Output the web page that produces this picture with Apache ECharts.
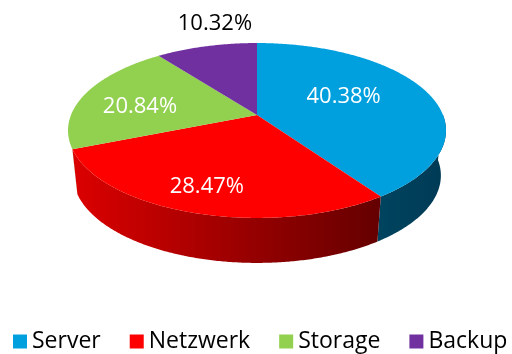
<!DOCTYPE html>
<html>
<head>
<meta charset="utf-8">
<script src="https://cdn.jsdelivr.net/npm/echarts@6/dist/echarts.min.js"></script>
<style>
  html, body { margin: 0; padding: 0; background: #fff; }
  #chart { width: 512px; height: 354px; }
</style>
</head>
<body>
<div id="chart"></div>
<script>
// Cost shares per area (percent)
const categories = ['Server', 'Netzwerk', 'Storage', 'Backup'];
const shares = [40.38, 28.47, 20.84, 10.32];

// Slice styling
const topColors = ['#00A0DF', '#FF0000', '#92D050', '#7030A0'];
const wallColors = [
  ['#00445F', '#003A55'],
  ['#DC0000', '#640000'],
  ['#6E9E3C', '#5C8A30'],
  ['#55247A', '#4A1F6A']
];
const labelColors = ['#ffffff', '#ffffff', '#ffffff', '#000000'];
// label anchor: [angle in degrees clockwise from 12 o'clock, radius fraction]
const labelSpots = [[65.1, 0.534], [197.6, 0.775], [278.9, 0.648], [348.2, 1.368]];

// Tilted-disc projection used for the 3D look
const view = {
  cx: 257, cy: 115, a: 186, b: 84.7, k: 0.177,
  drop: 45, bottomScale: 0.973,
  wallFrom: 90, wallTo: 248   // visible part of the outer wall (degrees)
};

function project(deg, r, bottom) {
  const t = deg * Math.PI / 180;
  const u = r * Math.sin(t);
  const v = -r * Math.cos(t);
  const w = 1 - view.k * v;
  const a = bottom ? view.a * view.bottomScale : view.a;
  return [view.cx + a * u / w, view.cy + view.b * v / w + (bottom ? view.drop : 0)];
}

const total = shares.reduce((s, x) => s + x, 0);
const cumulative = [0];
shares.forEach((s, i) => cumulative.push(cumulative[i] + s));

function arc(from, to, r, bottom) {
  const pts = [];
  const steps = Math.max(2, Math.ceil((to - from) / 0.5));
  for (let j = 0; j <= steps; j++) {
    pts.push(project(from + (to - from) * j / steps, r, bottom));
  }
  return pts;
}

function makeRenderer(i) {
  return function (params, api) {
    const start = cumulative[i] / total * 360;
    const end = start + api.value(0) / total * 360;
    const children = [];

    // outer wall, front part only
    const ws = Math.max(start, view.wallFrom), we = Math.min(end, view.wallTo);
    if (ws < we) {
      const wallPts = arc(ws, we, 1, false).concat(arc(ws, we, 1, true).reverse());
      children.push({
        type: 'polygon',
        shape: { points: wallPts },
        style: {
          fill: new echarts.graphic.LinearGradient(0, 0, 1, 0, [
            { offset: 0, color: wallColors[i][0] },
            { offset: 1, color: wallColors[i][1] }
          ]),
          stroke: null
        },
        z2: 1
      });
    }

    // top face
    const topPts = [project(0, 0, false)].concat(arc(start, end, 1, false));
    children.push({
      type: 'polygon',
      shape: { points: topPts },
      style: { fill: topColors[i], stroke: null },
      z2: 10
    });

    // value label
    const lp = project(labelSpots[i][0], labelSpots[i][1], false);
    children.push({
      type: 'text',
      x: lp[0],
      y: lp[1],
      style: {
        text: api.value(0).toFixed(2) + '%',
        fill: labelColors[i],
        font: '22px "Open Sans"',
        align: 'center',
        verticalAlign: 'middle'
      },
      z2: 30
    });

    return { type: 'group', children: children };
  };
}

const chart = echarts.init(document.getElementById('chart'), null, { renderer: 'canvas' });
chart.setOption({
  backgroundColor: '#ffffff',
  animation: false,
  legend: {
    data: categories,
    left: 13,
    top: 330,
    width: 505,
    padding: 0,
    icon: 'rect',
    itemWidth: 14,
    itemHeight: 14,
    itemGap: 29,
    selectedMode: false,
    textStyle: { fontFamily: 'Open Sans', fontSize: 23, color: '#000000' }
  },
  series: categories.map((name, i) => ({
    type: 'custom',
    name: name,
    coordinateSystem: 'none',
    silent: true,
    itemStyle: { color: topColors[i] },
    data: [shares[i]],
    renderItem: makeRenderer(i)
  }))
});
</script>
</body>
</html>
